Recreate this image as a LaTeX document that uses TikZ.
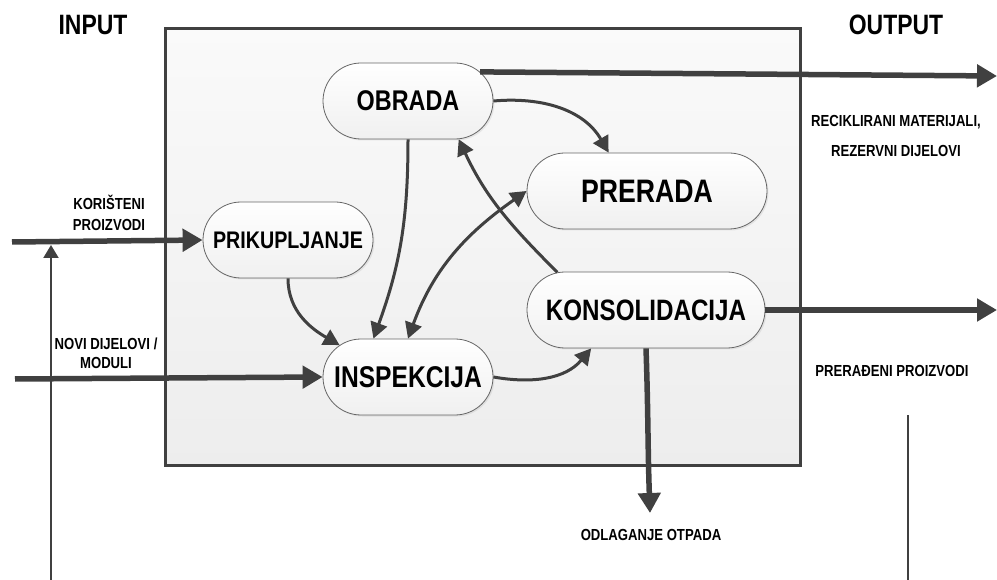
\documentclass[tikz,border=0pt]{standalone}
\usepackage{fontspec}
\setmainfont{Liberation Sans}[FakeStretch=0.82]
\usetikzlibrary{arrows.meta,shapes.misc,shadows}

\definecolor{linegray}{HTML}{404040}

\begin{document}
\begin{tikzpicture}[
  x=1pt, y=1pt,
  % process steps and connectors
  phase/.style={rounded rectangle, draw=black!60, line width=0.8pt,
    top color=white, bottom color=black!6, minimum height=76pt, inner sep=0pt,
    drop shadow={opacity=0.15, shadow xshift=1.5pt, shadow yshift=-1.5pt}},
  flow/.style={draw=linegray, line width=5.5pt, -{Triangle[length=20pt,width=22pt]}},
  link/.style={draw=linegray, line width=3pt, -{Triangle[length=16pt,width=17pt]}},
  thin/.style={draw=linegray, line width=2.2pt},
  caption/.style={font=\bfseries\fontsize{16}{21}\selectfont, align=center},
  heading/.style={font=\bfseries\fontsize{28}{30}\selectfont},
  ]
  \useasboundingbox (0,0) rectangle (997,-580);

  % system boundary
  \draw[draw=linegray, line width=3pt, top color=black!2, bottom color=black!7,
    drop shadow={opacity=0.12, shadow xshift=2pt, shadow yshift=-2pt}]
    (165,-29) rectangle (800,-465);

  \node[heading] (input) at (93,-25) {INPUT};
  \node[heading] (output) at (896,-25) {OUTPUT};

  \node[phase, minimum width=170pt, font=\bfseries\fontsize{28.5}{30}\selectfont]
    (obrada) at (408,-101) {OBRADA};
  \node[phase, minimum width=170pt, font=\bfseries\fontsize{24}{26}\selectfont]
    (prikupljanje) at (288,-240) {PRIKUPLJANJE};
  \node[phase, minimum width=240pt, font=\bfseries\fontsize{32.5}{34}\selectfont]
    (prerada) at (647,-191) {PRERADA};
  \node[phase, minimum width=170pt, font=\bfseries\fontsize{30}{32}\selectfont]
    (inspekcija) at (408,-377) {INSPEKCIJA};
  \node[phase, minimum width=238pt, font=\bfseries\fontsize{29.5}{31}\selectfont]
    (konsolidacija) at (646,-310) {KONSOLIDACIJA};

  \node[caption] (koristeni) at (109,-213) {KORIŠTENI\\PROIZVODI};
  \node[caption, font=\bfseries\fontsize{16}{19}\selectfont]
    (novi) at (106,-353) {NOVI DIJELOVI /\\MODULI};
  \node[caption, font=\bfseries\fontsize{16}{30}\selectfont]
    (reciklirani) at (896,-136) {RECIKLIRANI MATERIJALI,\\REZERVNI DIJELOVI};
  \node[caption] (preradjeni) at (892,-371) {PRERAĐENI PROIZVODI};
  \node[caption] (otpad) at (651,-535) {ODLAGANJE OTPADA};

  \coordinate (in1) at (12,-242);
  \coordinate (in2) at (15,-379);
  \coordinate (out1) at (997,-76);
  \coordinate (out2) at (997,-310);
  \coordinate (waste) at (650,-513);
  \coordinate (feed bottom) at (51,-580);
  \coordinate (feed top) at (51,-245);
  \coordinate (line top) at (908,-415);
  \coordinate (line bottom) at (908,-580);

  % inputs and outputs
  \draw[flow] (in1) -- (prikupljanje.west);
  \draw[flow] (in2) -- (inspekcija.west);
  \draw[flow] (obrada.22) -- (out1);
  \draw[flow] (konsolidacija.east) -- (out2);
  \draw[flow] (konsolidacija.south) to[out=-88,in=92] (waste);
  \draw[thin, -{Triangle[length=13pt,width=15pt]}] (feed bottom) -- (feed top);
  \draw[thin] (line top) -- (line bottom);

  % inner flows
  \draw[link] (obrada.east) to[out=5,in=120] (prerada.135);
  \draw[link] (obrada.south) to[out=-90,in=70] (inspekcija.132);
  \draw[link] (prikupljanje.south) to[out=-90,in=150] (inspekcija.155);
  \draw[link, {Triangle[length=16pt,width=17pt]}-{Triangle[length=16pt,width=17pt]}]
    (inspekcija.north) to[out=70,in=-145] (prerada.west);
  \draw[link] (konsolidacija.157) to[out=135,in=-65] (obrada.-37);
  \draw[link] (inspekcija.east) to[out=-10,in=-130] (konsolidacija.215);

\end{tikzpicture}
\end{document}
